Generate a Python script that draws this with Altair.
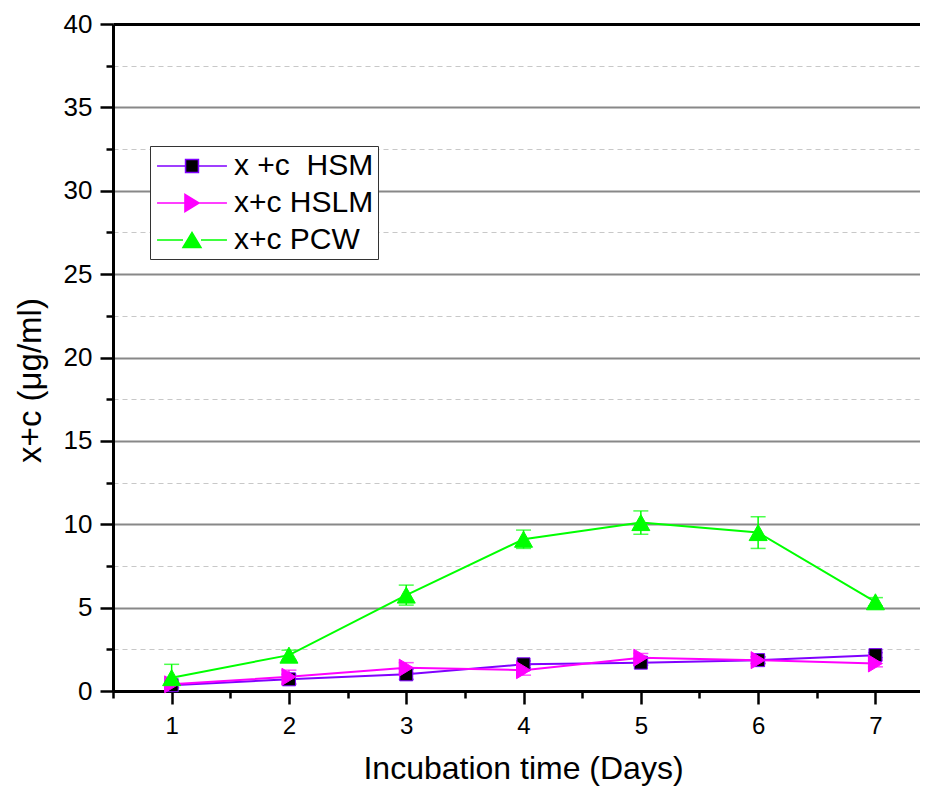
import altair as alt
import pandas as pd

days = [1, 2, 3, 4, 5, 6, 7]
series_names = ["x\u00a0+c\u00a0\u00a0HSM", "x+c HSLM", "x+c PCW"]
hsm = [0.35, 0.7, 1.0, 1.6, 1.7, 1.85, 2.15]
hsm_err = [0.15, 0.3, 0.3, 0.2, 0.15, 0.2, 0.15]
hslm = [0.4, 0.85, 1.4, 1.25, 2.0, 1.85, 1.65]
hslm_err = [0.2, 0.4, 0.3, 0.3, 0.25, 0.2, 0.2]
pcw = [0.8, 2.15, 5.75, 9.1, 10.1, 9.5, 5.35]
pcw_err = [0.8, 0.3, 0.6, 0.55, 0.7, 0.95, 0.25]

line_colors = ["#8000ff", "#ff00ff", "#00ff00"]
fill_colors = ["#000000", "#ff00ff", "#00ff00"]
marker_paths = [
    "M-0.65,-0.65H0.65V0.65H-0.65Z",
    "M-0.7,-0.85L0.7,0L-0.7,0.85Z",
    "M-0.9,0.8L0,-0.8L0.9,0.8Z",
]
legend_paths = [
    "M-2.33,0H-0.43M0.43,0H2.33M-0.43,-0.43H0.43V0.43H-0.43Z",
    "M-2.33,0H-0.47M0.47,0H2.33M-0.47,-0.57L0.47,0L-0.47,0.57Z",
    "M-2.33,0H-0.6M0.6,0H2.33M-0.6,0.5L0,-0.5L0.6,0.5Z",
]

rows = []
for name, vals, errs in zip(series_names, [hsm, hslm, pcw], [hsm_err, hslm_err, pcw_err]):
    for d, v, e in zip(days, vals, errs):
        rows.append({"day": d, "value": v, "lo": v - e, "hi": v + e, "series": name})
df = pd.DataFrame(rows)

FONT = "Liberation Sans"
xscale = alt.Scale(domain=[0.5, 7.38], nice=False, zero=False)
yscale = alt.Scale(domain=[0, 40], nice=False)

xaxis = alt.Axis(
    values=[0.5, 1, 1.5, 2, 2.5, 3, 3.5, 4, 4.5, 5, 5.5, 6, 6.5, 7],
    labelExpr="datum.value % 1 == 0 ? format(datum.value, 'd') : ''",
    grid=False,
    domainColor="black", domainWidth=3,
    tickColor="black", tickWidth=2.5,
    tickSize={"condition": {"test": "datum.value % 1 != 0", "value": 7}, "value": 13},
    labelFont=FONT, labelFontSize=24, labelColor="black", labelPadding=10,
    title="Incubation time (Days)", titleFont=FONT, titleFontSize=32,
    titleFontWeight="normal", titleColor="black",
    titleX=410, titleY=87, titleBaseline="alphabetic", titleAnchor="middle",
)
yvals = [i * 2.5 for i in range(17)]
yaxis = alt.Axis(
    values=yvals,
    labelExpr="datum.value % 5 == 0 ? format(datum.value, 'd') : ''",
    grid=True,
    gridColor={"condition": [{"test": "datum.value == 40", "value": "#000000"},
                             {"test": "datum.value % 5 != 0", "value": "#c8c8c8"}],
               "value": "#888888"},
    gridDash={"condition": {"test": "datum.value % 5 != 0", "value": [5, 4]}, "value": []},
    gridWidth={"condition": [{"test": "datum.value == 40", "value": 3},
                             {"test": "datum.value % 5 != 0", "value": 1.2}],
               "value": 1.8},
    domainColor="black", domainWidth=3,
    tickColor="black", tickWidth=2.5,
    tickSize={"condition": {"test": "datum.value % 5 != 0", "value": 7}, "value": 13},
    labelFont=FONT, labelFontSize=26, labelColor="black", labelPadding=8,
    title="x+c (\u03bcg/ml)", titleFont=FONT, titleFontSize=33,
    titleFontWeight="normal", titleColor="black",
    titleX=-83, titleY=356, titleBaseline="middle", titleAngle=-90,
)

X = alt.X("day:Q", scale=xscale, axis=xaxis)
color = alt.Color("series:N", scale=alt.Scale(domain=series_names, range=line_colors), legend=None)

lines = alt.Chart(df).mark_line(strokeWidth=2).encode(
    x=X,
    y=alt.Y("value:Q", scale=yscale, axis=yaxis),
    color=color,
)
ebars = alt.Chart(df).mark_rule(strokeWidth=1.5).encode(
    x=X,
    y=alt.Y("lo:Q", scale=yscale, axis=yaxis),
    y2="hi:Q",
    color=color,
)
cap_hi = alt.Chart(df).mark_tick(orient="horizontal", size=15, thickness=1.5).encode(
    x=X,
    y=alt.Y("hi:Q", scale=yscale, axis=yaxis),
    color=color,
)
cap_lo = alt.Chart(df).mark_tick(orient="horizontal", size=15, thickness=1.5).encode(
    x=X,
    y=alt.Y("lo:Q", scale=yscale, axis=yaxis),
    color=color,
)
points = alt.Chart(df).mark_point(filled=True, size=400, strokeWidth=1, opacity=1).encode(
    x=X,
    y=alt.Y("value:Q", scale=yscale, axis=yaxis),
    shape=alt.Shape("series:N", scale=alt.Scale(domain=series_names, range=marker_paths), legend=None),
    fill=alt.Fill("series:N", scale=alt.Scale(domain=series_names, range=fill_colors), legend=None),
    stroke=alt.Stroke("series:N", scale=alt.Scale(domain=series_names, range=line_colors), legend=None),
)

legend = alt.Legend(
    title=None, orient="none", legendX=37, legendY=122,
    strokeColor="#333333", fillColor="white", padding=4, rowPadding=6,
    symbolSize=900, symbolStrokeWidth=1.5, symbolOffset=22, symbolOpacity=1,
    labelOffset=26, labelFont=FONT, labelFontSize=30, labelColor="black", labelLimit=0,
)
legend_layer = alt.Chart(df[df["day"] == 1]).mark_point(filled=True, size=900, opacity=0).encode(
    x=X,
    y=alt.Y("value:Q", scale=yscale, axis=yaxis),
    shape=alt.Shape("series:N", scale=alt.Scale(domain=series_names, range=legend_paths), legend=legend),
    fill=alt.Fill("series:N", scale=alt.Scale(domain=series_names, range=fill_colors), legend=legend),
    stroke=alt.Stroke("series:N", scale=alt.Scale(domain=series_names, range=line_colors), legend=legend),
)

chart = alt.layer(lines, ebars, cap_hi, cap_lo, points, legend_layer).resolve_scale(
    shape="independent", fill="independent", stroke="independent"
).properties(
    width=807, height=667,
    autosize=alt.AutoSizeParams(type="none"),
    padding={"left": 105, "top": 16, "right": 0, "bottom": 96},
    background="white",
).configure_view(stroke=None)

chart.save("out.html", embed_options={"renderer": "svg", "actions": False})
